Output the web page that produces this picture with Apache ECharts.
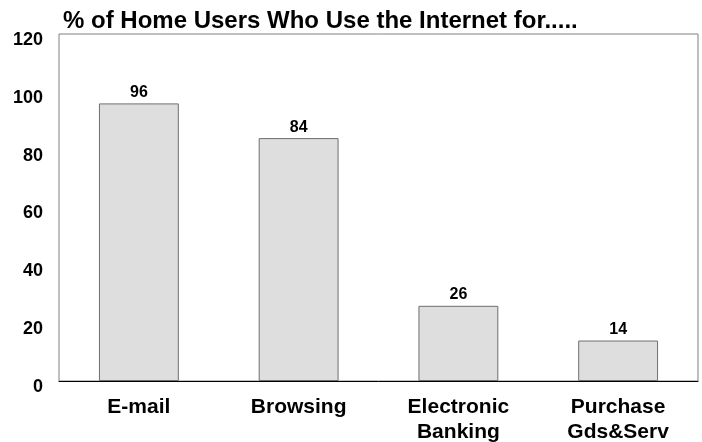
<!DOCTYPE html>
<html>
<head>
<meta charset="utf-8">
<script src="https://cdn.jsdelivr.net/npm/echarts@6/dist/echarts.min.js"></script>
<style>
  html, body { margin: 0; padding: 0; background: #fff; }
  #chart { width: 702px; height: 442px; }
</style>
</head>
<body>
<div id="chart"></div>
<script>
// 数据
const categories = ['E-mail', 'Browsing', 'Electronic\nBanking', 'Purchase\nGds&Serv']
const values = [96, 84, 26, 14]
const yTicks = [0, 20, 40, 60, 80, 100, 120]

const chart = echarts.init(document.getElementById('chart'))

const option = {
  animation: false,
  textStyle: { fontFamily: 'Liberation Sans, Arial, sans-serif' },
  title: {
    text: '% of Home Users Who Use the Internet for.....',
    left: 58,
    top: 4,
    textStyle: { fontSize: 24, fontWeight: 'bold', color: '#000' }
  },
  grid: {
    left: 59,
    right: 4,
    top: 34,
    bottom: 61,
    outerBoundsMode: 'none',
    containLabel: false,
    show: true,
    borderColor: '#808080',
    borderWidth: 1
  },
  xAxis: {
    type: 'category',
    data: categories,
    axisLine: { show: true, lineStyle: { color: '#000', width: 1 } },
    axisTick: { show: false },
    axisLabel: {
      fontSize: 21,
      fontWeight: 'bold',
      color: '#000',
      margin: 14,
      lineHeight: 25
    }
  },
  yAxis: {
    type: 'value',
    min: yTicks[0],
    max: yTicks[yTicks.length - 1],
    interval: 20,
    splitLine: { show: false },
    axisLine: { show: false },
    axisTick: { show: false },
    axisLabel: {
      fontSize: 18,
      fontWeight: 'bold',
      color: '#000',
      margin: 16,
      verticalAlign: 'top',
      lineHeight: 12
    }
  },
  series: [
    {
      type: 'bar',
      data: values,
      barWidth: '50%',
      itemStyle: {
        color: '#dedede',
        borderColor: '#6e6e6e',
        borderWidth: 1
      },
      label: {
        show: true,
        position: 'top',
        distance: 3,
        fontSize: 16,
        fontWeight: 'bold',
        color: '#000'
      }
    }
  ]
}

chart.setOption(option)
</script>
</body>
</html>
